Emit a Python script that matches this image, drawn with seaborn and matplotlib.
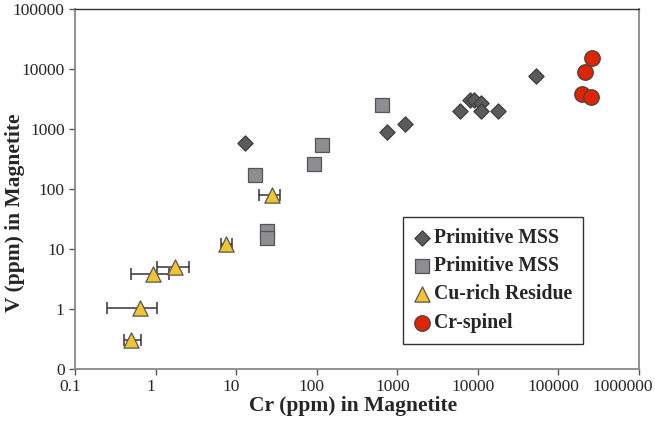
import numpy as np
import pandas as pd
import matplotlib
matplotlib.use("Agg")
import matplotlib.pyplot as plt
import matplotlib.transforms as mtrans
import seaborn as sns
from matplotlib.ticker import FixedLocator, FixedFormatter, NullLocator

# ------------------------------
# Data (Cr vs V in magnetite, ppm)
# ------------------------------
diamond_cr = [13, 750, 1250, 6000, 8000, 9000, 11000, 11000, 18000, 52000]
diamond_v = [580, 890, 1200, 2000, 3000, 3000, 2700, 2000, 2000, 7500]

square_cr = [650, 115, 92, 17, 24, 24]
square_v = [2500, 540, 260, 170, 20, 15]

tri_cr = [28, 7.5, 1.75, 0.92, 0.64, 0.5]
tri_v = [80, 12, 5, 3.8, 1.05, 0.3]
tri_cr_lo = [19, 6.5, 1.03, 0.49, 0.25, 0.41]
tri_cr_hi = [35, 9, 2.6, 1.46, 1.03, 0.66]

spinel_cr = [260000, 215000, 195000, 255000]
spinel_v = [15000, 8800, 3800, 3450]

x_ticks = [0.1, 1, 10, 100, 1000, 10000, 100000, 1000000]
x_tick_labels = ["0.1", "1", "10", "100", "1000", "10000", "100000", "1000000"]
y_ticks = [0.1, 1, 10, 100, 1000, 10000, 100000]
y_tick_labels = ["0", "1", "10", "100", "1000", "10000", "100000"]

groups = [
    ("Primitive MSS", diamond_cr, diamond_v, "D", "#5b5b5b", "#3c3c3c", 60),
    ("Primitive MSS", square_cr, square_v, "s", "#8e8e92", "#555555", 100),
    ("Cu-rich Residue", tri_cr, tri_v, "^", "#f2c431", "#555555", 120),
    ("Cr-spinel", spinel_cr, spinel_v, "o", "#dd2600", "#444444", 125),
]

# ------------------------------
# Plot
# ------------------------------
sns.set_style("white")
plt.rcParams["font.family"] = ["Liberation Serif", "DejaVu Serif"]

fig = plt.figure(figsize=(6.55, 4.22), dpi=100)
ax = fig.add_axes([0.1145, 0.1256, 0.8611, 0.8531])

# error bars first so markers sit on top
tri_err = [np.array(tri_cr) - np.array(tri_cr_lo), np.array(tri_cr_hi) - np.array(tri_cr)]
ax.errorbar(tri_cr, tri_v, xerr=tri_err, fmt="none", ecolor="#333333",
            elinewidth=1.1, capsize=4, capthick=1.1, zorder=2)

for label, xs, ys, marker, face, edge, size in groups:
    df = pd.DataFrame({"cr": xs, "v": ys})
    sns.scatterplot(data=df, x="cr", y="v", marker=marker, color=face,
                    edgecolor=edge, linewidth=0.9, s=size, label=label,
                    ax=ax, zorder=3)

ax.set_xscale("log")
ax.set_yscale("log")
ax.set_xlim(0.1, 1000000)
ax.set_ylim(0.1, 100000)

ax.xaxis.set_major_locator(FixedLocator(x_ticks))
ax.xaxis.set_major_formatter(FixedFormatter(x_tick_labels))
ax.yaxis.set_major_locator(FixedLocator(y_ticks))
ax.yaxis.set_major_formatter(FixedFormatter(y_tick_labels))
ax.xaxis.set_minor_locator(NullLocator())
ax.yaxis.set_minor_locator(NullLocator())
ax.tick_params(axis="both", which="major", direction="out", length=4.5,
               width=1, color="#555555", labelsize=12.5, pad=3,
               bottom=True, left=True)

# x tick labels sit a little left of their ticks in the reference
labels = ax.get_xticklabels()
for i, lab in enumerate(labels):
    dx = -16 if i == len(labels) - 1 else -5
    lab.set_transform(lab.get_transform() +
                      mtrans.ScaledTranslation(dx / 100, 0, fig.dpi_scale_trans))

for side in ["left", "bottom", "right"]:
    ax.spines[side].set_color("#888888")
    ax.spines[side].set_linewidth(1.3)
ax.spines["top"].set_color("#333333")
ax.spines["top"].set_linewidth(1.0)

ax.set_xlabel("Cr (ppm) in Magnetite", fontsize=15.5, fontweight="bold")
ax.xaxis.set_label_coords(0.493, -0.076)
ax.set_ylabel("V (ppm) in Magnetite", fontsize=15.5, fontweight="bold")
ax.yaxis.set_label_coords(-0.089, 0.435)

leg = ax.legend(loc="upper left", bbox_to_anchor=(0.5816, 0.422), borderaxespad=0,
                frameon=True, fancybox=False, framealpha=1, edgecolor="#333333",
                prop={"weight": "bold", "size": 14.2}, handlelength=0.8,
                handletextpad=0.2, labelspacing=0.42, borderpad=0.55)
leg.get_frame().set_linewidth(1.0)

plt.savefig("out.png", dpi=100)
